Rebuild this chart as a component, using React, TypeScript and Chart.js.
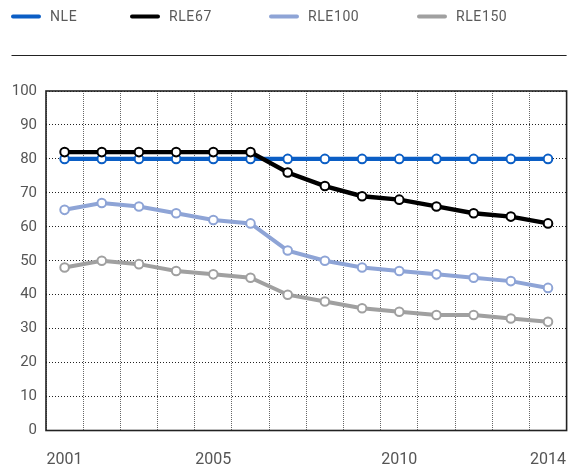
import React, { useEffect, useRef } from 'react';
import { Chart, registerables } from 'chart.js';

Chart.register(...registerables);

const years = ['2001', '2002', '2003', '2004', '2005', '2006', '2007', '2008', '2009', '2010', '2011', '2012', '2013', '2014'];
const shownYears = ['2001', '2005', '2010', '2014'];
const seriesNames = ['NLE', 'RLE67', 'RLE100', 'RLE150'];
const seriesColors = ['#0b5ec5', '#000000', '#8ea4d6', '#a0a0a0'];
const nle = [80, 80, 80, 80, 80, 80, 80, 80, 80, 80, 80, 80, 80, 80];
const rle67 = [82, 82, 82, 82, 82, 82, 76, 72, 69, 68, 66, 64, 63, 61];
const rle100 = [65, 67, 66, 64, 62, 61, 53, 50, 48, 47, 46, 45, 44, 42];
const rle150 = [48, 50, 49, 47, 46, 45, 40, 38, 36, 35, 34, 34, 33, 32];
const yTicks = [0, 10, 20, 30, 40, 50, 60, 70, 80, 90, 100];

const legendStarts = [11, 130, 269, 417];

const decor = {
  id: 'decor',
  beforeDatasetsDraw(chart: any) {
    const { ctx, chartArea } = chart;
    ctx.save();
    ctx.strokeStyle = '#222';
    ctx.lineWidth = 1.6;
    ctx.strokeRect(chartArea.left, chartArea.top, chartArea.right - chartArea.left, chartArea.bottom - chartArea.top);
    ctx.restore();
  },
  afterDraw(chart: any) {
    const { ctx } = chart;
    ctx.save();
    ctx.font = '14px Roboto';
    ctx.textBaseline = 'middle';
    ctx.textAlign = 'left';
    try {
      (ctx as any).letterSpacing = '0.6px';
    } catch (e) {}
    const y = 16.5;
    chart.data.datasets.forEach((ds: any, i: number) => {
      const x = legendStarts[i];
      ctx.strokeStyle = ds.borderColor;
      ctx.lineWidth = 4;
      ctx.lineCap = 'round';
      ctx.beginPath();
      ctx.moveTo(x + 2, y);
      ctx.lineTo(x + 28, y);
      ctx.stroke();
      ctx.fillStyle = '#5a5a5a';
      ctx.fillText(ds.label, x + 39, y + 1);
    });
    ctx.strokeStyle = '#222';
    ctx.lineWidth = 1;
    ctx.lineCap = 'butt';
    ctx.beginPath();
    ctx.moveTo(11.5, 55.5);
    ctx.lineTo(chart.chartArea.right, 55.5);
    ctx.stroke();
    ctx.restore();
  },
};

export default function App() {
  const ref = useRef<HTMLCanvasElement>(null);

  useEffect(() => {
    document.body.style.margin = '0';
    const seriesValues = [nle, rle67, rle100, rle150];
    const chart = new Chart(ref.current as HTMLCanvasElement, {
      type: 'line',
      data: {
        labels: years,
        datasets: seriesNames.map((name, i) => ({
          label: name,
          data: seriesValues[i],
          borderColor: seriesColors[i],
          backgroundColor: seriesColors[i],
          borderWidth: i < 2 ? 4.4 : 4,
          pointRadius: 4.3,
          pointBorderWidth: 2,
          pointBackgroundColor: '#ffffff',
          pointBorderColor: seriesColors[i],
          tension: 0,
          order: 3 - i,
        })),
      },
      options: {
        responsive: false,
        animation: false,
        layout: { padding: { top: 91, right: 13.4, bottom: 1, left: 0 } },
        plugins: { legend: { display: false }, tooltip: { enabled: false } },
        scales: {
          x: {
            type: 'category',
            offset: true,
            grid: { offset: true, color: '#666', lineWidth: 1, drawTicks: false },
            border: { display: false, dash: [1, 1] },
            ticks: {
              autoSkip: false,
              maxRotation: 0,
              padding: 20,
              color: '#555',
              font: { family: 'Roboto', size: 16 },
              callback: (_v: any, i: number) => (shownYears.includes(years[i]) ? years[i] : ''),
            },
            afterFit: (s: any) => {
              s.height = 38.5;
              s.paddingLeft = 0;
              s.paddingRight = 0;
            },
          },
          y: {
            min: yTicks[0],
            max: yTicks[yTicks.length - 1],
            grid: { color: '#222', lineWidth: 1, drawTicks: false },
            border: { display: false, dash: [1, 2] },
            ticks: {
              stepSize: 10,
              padding: 9,
              color: '#555',
              font: { family: 'Roboto', size: 15 },
            },
            afterFit: (s: any) => {
              s.width = 46;
            },
          },
        },
      },
      plugins: [decor],
    });
    return () => chart.destroy();
  }, []);

  return (
    <div style={{ width: 580, height: 470 }}>
      <canvas ref={ref} width={580} height={470} />
    </div>
  );
}
